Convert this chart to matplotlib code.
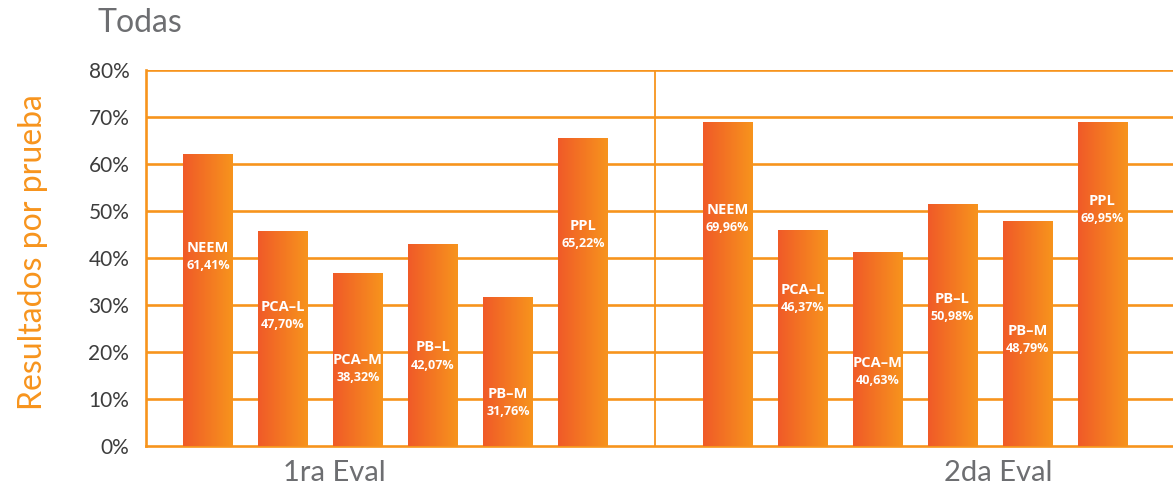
import numpy as np
import matplotlib.pyplot as plt
from matplotlib.colors import LinearSegmentedColormap

# Data
groups = ["1ra Eval", "2da Eval"]
tests = ["NEEM", "PCA-L", "PCA-M", "PB-L", "PB-M", "PPL"]
# bar heights as drawn (%)
bars_1ra = [62.1, 45.7, 36.6, 42.8, 31.7, 65.4]
bars_2da = [68.8, 45.8, 41.1, 51.3, 47.7, 68.8]
# printed labels
labels_1ra = ["61,41%", "47,70%", "38,32%", "42,07%", "31,76%", "65,22%"]
labels_2da = ["69,96%", "46,37%", "40,63%", "50,98%", "48,79%", "69,95%"]
# height of the label inside each bar (%)
label_y_1ra = [42.1, 29.6, 18.3, 21.0, 11.1, 46.8]
label_y_2da = [50.2, 33.2, 17.7, 31.3, 24.5, 52.1]

orange = "#F7941D"
red_orange = "#F05A28"
grad = LinearSegmentedColormap.from_list("bar", [red_orange, orange])
gradient = np.linspace(0, 1, 256).reshape(1, -1)

fig = plt.figure(figsize=(11.73, 4.9), dpi=100)
ax = fig.add_axes([146 / 1173, 44 / 490, 1 - 146 / 1173, 376 / 490])

spacing = 0.1474
width = 0.0963
centers = [0.49, 1.511]
all_bars = [bars_1ra, bars_2da]
all_labels = [labels_1ra, labels_2da]
all_label_y = [label_y_1ra, label_y_2da]

for g in range(2):
    for i, name in enumerate(tests):
        x = centers[g] + (i - 2.5) * spacing
        h = all_bars[g][i]
        ax.imshow(gradient, cmap=grad, aspect="auto",
                  extent=(x - width / 2, x + width / 2, 0, h), zorder=3)
        ly = all_label_y[g][i]
        ax.text(x, ly, name.replace("-", "–"), color="white", fontsize=10.5,
                fontweight="bold", ha="center", va="center",
                family="Open Sans", zorder=4)
        ax.text(x, ly - 3.8, all_labels[g][i], color="white", fontsize=9,
                fontweight="bold", ha="center", va="center",
                family="Open Sans", zorder=4)

ax.set_xlim(0, 2.018)
ax.set_ylim(0, 80)
ax.set_yticks(range(0, 81, 10))
ax.set_yticklabels([f"{v}%" for v in range(0, 81, 10)], fontsize=15,
                   color="#3d3d3d", family="Lato")
ax.tick_params(axis="y", length=0, pad=12)
ax.set_xticks([0.371, 1.675])
ax.set_xticklabels(groups, fontsize=21, color="#6d6e71", family="Lato")
ax.tick_params(axis="x", length=0, pad=10)

for y in range(10, 81, 10):
    ax.axhline(y, color=orange, lw=1.9, zorder=1)
ax.axvline(1.0, color=orange, lw=1.3, zorder=1)

for s in ["top", "right"]:
    ax.spines[s].set_visible(False)
ax.spines["left"].set_color(orange)
ax.spines["left"].set_linewidth(1.9)
ax.spines["bottom"].set_color(orange)
ax.spines["bottom"].set_linewidth(1.9)

fig.text(97 / 1173, 1 - 23 / 490, "Todas", fontsize=23, color="#6d6e71",
         family="Lato", va="center", ha="left")
fig.text(33 / 1173, 1 - 252 / 490, "Resultados por prueba", fontsize=23,
         color=orange, family="Lato", rotation=90,
         va="center", ha="center")

fig.savefig("out.png", dpi=100)
plt.close(fig)
